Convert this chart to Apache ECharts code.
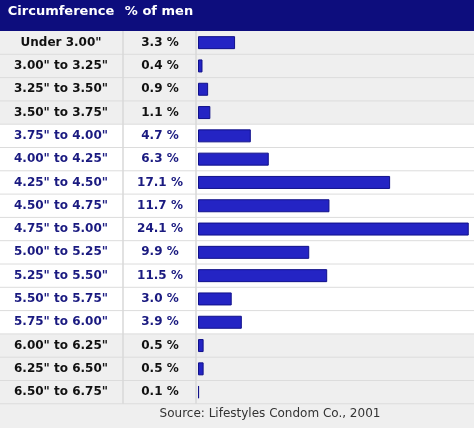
<!DOCTYPE html><html><head><meta charset="utf-8">
<script src="https://cdn.jsdelivr.net/npm/echarts@6/dist/echarts.min.js"></script>
<style>html,body{margin:0;padding:0;background:#fff}#c{width:474px;height:428px}</style></head><body><div id="c"></div>
<script>
const categories=['Under 3.00"','3.00" to 3.25"','3.25" to 3.50"','3.50" to 3.75"','3.75" to 4.00"','4.00" to 4.25"','4.25" to 4.50"','4.50" to 4.75"','4.75" to 5.00"','5.00" to 5.25"','5.25" to 5.50"','5.50" to 5.75"','5.75" to 6.00"','6.00" to 6.25"','6.25" to 6.50"','6.50" to 6.75"'];
const values=[3.3,0.4,0.9,1.1,4.7,6.3,17.1,11.7,24.1,9.9,11.5,3.0,3.9,0.5,0.5,0.1];
const headers=['Circumference','% of men'];
const source='Source: Lifestyles Condom Co., 2001';
const navyRows=[4,5,6,7,8,9,10,11,12];
const TOP=31,ROW=23.3,N=categories.length,GL=198;
const g=[];
g.push({type:'rect',shape:{x:0,y:0,width:474,height:428},style:{fill:'#efefef'},z:-10});
g.push({type:'rect',shape:{x:0,y:0,width:474,height:TOP},style:{fill:'#0d0d7d'},z:-5});
g.push({type:'rect',shape:{x:0,y:TOP+4*ROW,width:474,height:9*ROW},style:{fill:'#ffffff'},z:-9});
for(let i=1;i<=N;i++)g.push({type:'line',shape:{x1:0,y1:TOP+i*ROW,x2:474,y2:TOP+i*ROW},style:{stroke:'#dcdcdc',lineWidth:1},z:-8});
[123,196].forEach(x=>{g.push({type:'line',shape:{x1:x,y1:0,x2:x,y2:TOP+N*ROW},style:{stroke:'#d8d8d8',lineWidth:1.5},z:-7});});
g.push({type:'text',style:{text:headers[0],x:61,y:TOP/2-4,align:'center',verticalAlign:'middle',fill:'#fff',font:'bold 13px Verdana, DejaVu Sans, sans-serif'}});
g.push({type:'text',style:{text:headers[1],x:159,y:TOP/2-4,align:'center',verticalAlign:'middle',fill:'#fff',font:'bold 13px Verdana, DejaVu Sans, sans-serif'}});
g.push({type:'text',style:{text:source,x:270,y:TOP+N*ROW+10,align:'center',verticalAlign:'middle',fill:'#333',font:'12px Verdana, DejaVu Sans, sans-serif'}});
const ch=echarts.init(document.getElementById('c'));
ch.setOption({animation:false,
grid:{left:GL,right:3,top:TOP,height:N*ROW},
xAxis:{type:'value',min:0,max:24.3,show:false},
yAxis:{type:'category',inverse:true,data:categories,axisLine:{show:false},axisTick:{show:false},
 axisLabel:{margin:0,formatter:(v,i)=>{const s=navyRows.includes(i)?'n':'k';return '{'+s+'a|'+v+'}{'+s+'b|'+values[i].toFixed(1)+' %}';},
 rich:{ka:{width:122,align:'center',color:'#111',fontWeight:'bold',fontSize:12,fontFamily:'Verdana, DejaVu Sans'},
       kb:{width:76,align:'center',color:'#111',fontWeight:'bold',fontSize:12,fontFamily:'Verdana, DejaVu Sans'},
       na:{width:122,align:'center',color:'#1a1a80',fontWeight:'bold',fontSize:12,fontFamily:'Verdana, DejaVu Sans'},
       nb:{width:76,align:'center',color:'#1a1a80',fontWeight:'bold',fontSize:12,fontFamily:'Verdana, DejaVu Sans'}}}},
series:[{type:'bar',data:values,barWidth:13,itemStyle:{color:'#2424c4',borderColor:'#10108a',borderWidth:1}}],
graphic:g});
</script></body></html>
